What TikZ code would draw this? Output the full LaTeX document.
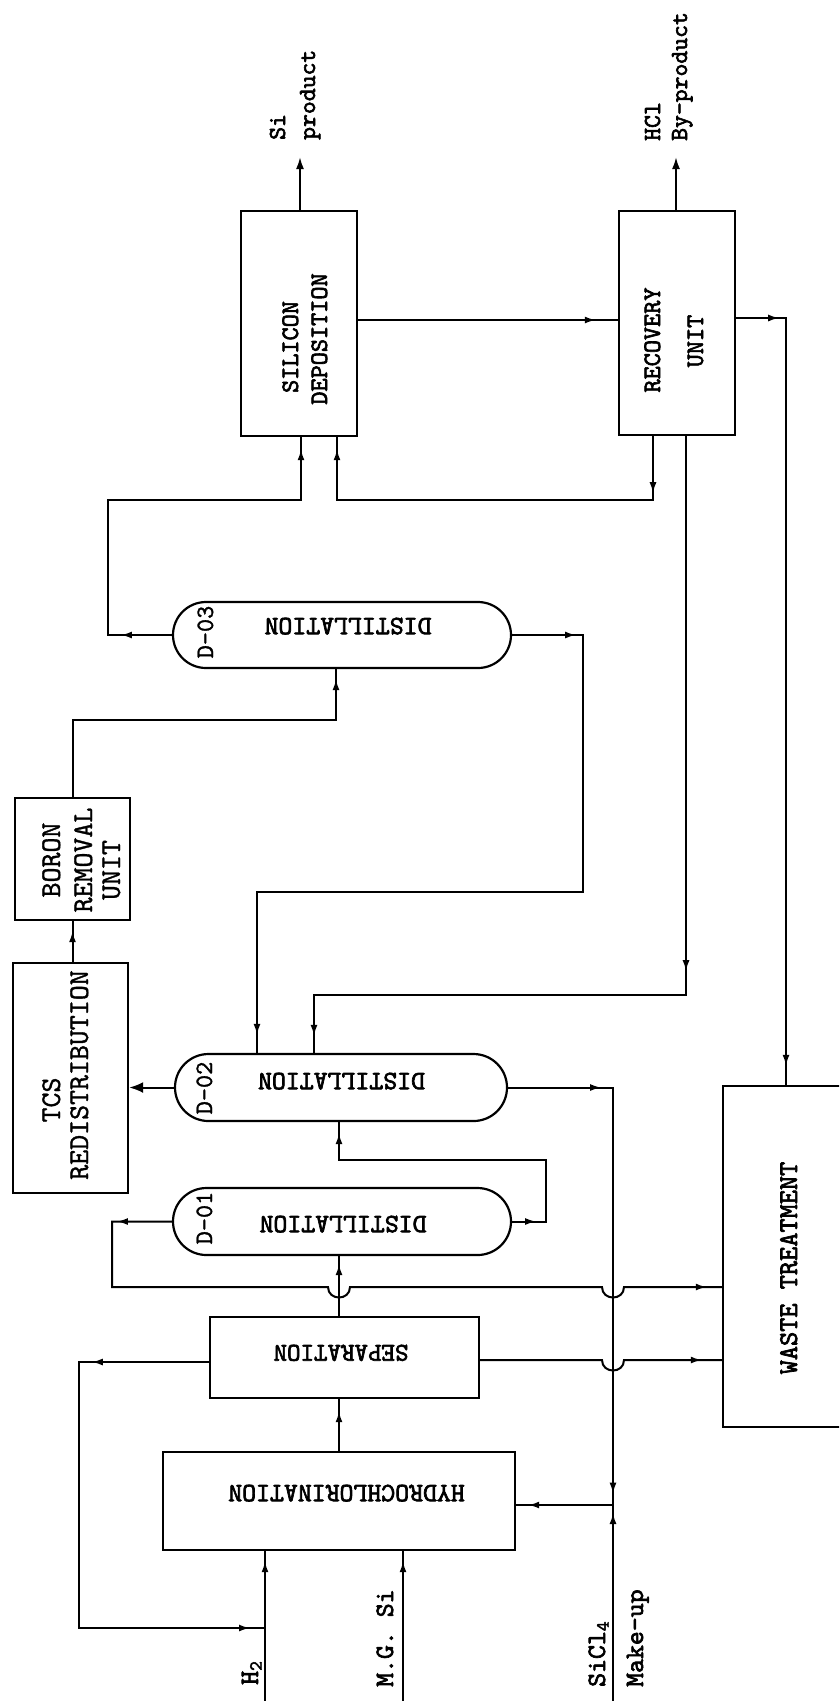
\documentclass[tikz,border=0pt]{standalone}
\usepackage{fontspec}
\newfontfamily\twb{lmmono10-regular}[Extension=.otf, FakeBold=2.5]
\newfontfamily\twr{lmmono10-regular}[Extension=.otf, FakeBold=1.2]
\usetikzlibrary{arrows.meta,decorations.markings,shapes.misc}
\tikzset{
  box/.style={draw, line width=2.4pt, rectangle, inner sep=0pt},
  vessel/.style={draw, line width=2.2pt, rounded rectangle, inner sep=0pt, minimum width=338pt, minimum height=66pt},
  ln/.style={line width=2pt},
  ar/.style={postaction={decorate,decoration={markings,mark=at position #1 with {\arrow{Latex[length=11pt,width=7pt]}}}}},
  tip/.style={-{Latex[length=12pt,width=8pt]}},
  bigtip/.style={-{Latex[length=14pt,width=11pt]}},
  bt/.style={font=\twb\fontsize{#1}{#1}\selectfont, inner sep=0pt},
  rt/.style={font=\twr\fontsize{#1}{#1}\selectfont, inner sep=0pt},
}
\begin{document}
\begin{tikzpicture}[x=1pt,y=-1pt]
\path[use as bounding box] (0,0) rectangle (839,1701);
\clip (0,0) rectangle (839,1701);
\fill[white] (0,0) rectangle (839,1701);

% units
\node[box, minimum width=116pt, minimum height=225pt] (sd) at (299,323.5) {};
\node[box, minimum width=116pt, minimum height=224pt] (rec) at (677,323) {};
\node[vessel] (d03) at (342,635) {};
\node[box, minimum width=115pt, minimum height=122pt] (bru) at (72.5,859) {};
\node[box, minimum width=115pt, minimum height=230pt] (tcs) at (70.5,1078) {};
\node[vessel, minimum width=332pt, minimum height=67pt] (d02) at (341,1087.5) {};
\node[vessel, minimum width=338pt, minimum height=67pt] (d01) at (342,1221.5) {};
\node[box, minimum width=269pt, minimum height=81pt] (sep) at (344.5,1357.5) {};
\node[box, minimum width=352pt, minimum height=98pt] (hyd) at (339,1501) {};
\node[box, minimum width=160pt, minimum height=341pt] (wt) at (803,1256.5) {};

% free ends
\coordinate (sipr) at (300,157);
\coordinate (hclpr) at (676,157);
\coordinate (jn) at (613,1505);
\coordinate (mk) at (613,1701);
\coordinate (h2in) at (265,1701);
\coordinate (h2j) at (265,1628);
\coordinate (mgin) at (403,1701);

% connectors
\draw[ln, tip] (300,0 |- sd.north) -- (sipr);
\draw[ln, ar=-22pt] (sd.east |- 0,320) -- (rec.west |- 0,320);
\draw[ln, tip] (676,0 |- rec.north) -- (hclpr);
\draw[ln, ar=43pt, ar=-19pt] (rec.east |- 0,318) -- (786,318) -- (786,0 |- wt.north);
\draw[ln, ar=57pt, ar=-12pt] (653,0 |- rec.south) -- (653,500) -- (337,500) -- (337,0 |- sd.south);
\draw[ln, ar=51pt, ar=-12pt] (d03.west) -- (108,0 |- d03.west) -- (108,500) -- (301,500) -- (301,0 |- sd.south);
\draw[ln, ar=535pt, ar=-17pt] (686,0 |- rec.south) -- (686,995) -- (314,995) -- (314,0 |- d02.north);
\draw[ln, ar=64pt, ar=-18pt] (d03.east) -- (583,0 |- d03.east) -- (583,892) -- (257,892) -- (257,0 |- d02.north);
\draw[ln, ar=-10pt] (bru.north) -- (72.5,720) -- (336,720) -- (336,0 |- d03.south);
\draw[ln, ar=-10pt] (tcs.north -| bru.south) -- (bru.south);
\draw[ln, bigtip] (d02.west) -- (tcs.east |- d02.west);
\draw[ln, ar=24pt, ar=-11pt] (d01.east) -- (546,0 |- d01.east) -- (546,1160) -- (339,1160) -- (339,0 |- d02.south);
\draw[ln, ar=93pt, ar=511pt, ar=-12pt] (d02.east) -- (613,0 |- d02.east) -- (jn) -- (hyd.east |- jn);
\draw[ln, ar=-8pt] (mk) -- (jn);
\draw[ln, ar=55pt, ar=-15pt] (d01.west) -- (112,0 |- d01.west) -- (112,1287) -- (328,1287)
   .. controls (328,1301) and (350,1301) .. (350,1287) -- (602,1287)
   .. controls (602,1301) and (624,1301) .. (624,1287) -- (wt.west |- 0,1287);
\draw[ln, ar=-8pt] (339,0 |- sep.north) -- (339,0 |- d01.south);
\draw[ln, ar=117pt, ar=-15pt] (sep.west |- 0,1362) -- (79,1362) -- (79,1628) -- (h2j);
\draw[ln, ar=-20pt] (sep.east |- 0,1360) -- (602,1360)
   .. controls (602,1374) and (624,1374) .. (624,1360) -- (wt.west |- 0,1360);
\draw[ln, ar=-12pt] (339,0 |- hyd.north) -- (339,0 |- sep.south);
\draw[ln, ar=-10pt] (h2in) -- (265,0 |- hyd.south);
\draw[ln, ar=-10pt] (mgin) -- (403,0 |- hyd.south);

% texts
\node[bt=24.5, rotate=90, anchor=base west] (lsi) at (285,140) {Si};
\node[bt=24.5, rotate=90, anchor=base west] (lprod) at (315,140) {product};
\node[bt=24.5, rotate=90, anchor=base west] (lhcl) at (660,141) {HCl};
\node[bt=24.5, rotate=90, anchor=base west] (lby) at (687,141) {By-product};
\node[bt=25, rotate=90, anchor=base] (tsil) at (298,347) {SILICON};
\node[bt=25, rotate=90, anchor=base] (tdep) at (327,339) {DEPOSITION};
\node[bt=25, rotate=90, anchor=base] (trec) at (660,340) {RECOVERY};
\node[bt=25, rotate=90, anchor=base] (tunit) at (703,341) {UNIT};
\node[rt=28.5, rotate=90, anchor=base] (tbor) at (60,860) {BORON};
\node[rt=28.5, rotate=90, anchor=base] (trem) at (92,860) {REMOVAL};
\node[rt=28.5, rotate=90, anchor=base] (tuni2) at (120,870) {UNIT};
\node[rt=28.5, rotate=90, anchor=base] (ttcs) at (60,1100) {TCS};
\node[rt=28.5, rotate=90, anchor=base] (tred) at (88,1075) {REDISTRIBUTION};
\node[bt=27, rotate=90, anchor=base] (twt) at (797,1268) {WASTE TREATMENT};
\node[rt=25, rotate=90, anchor=base] (td3) at (213,632) {D-03};
\node[rt=25, rotate=90, anchor=base] (td2) at (212,1088) {D-02};
\node[rt=25, rotate=90, anchor=base] (td1) at (212,1218) {D-01};
\node[bt=26.5, rotate=180, anchor=base] (tdi3) at (348,618) {DISTILLATION};
\node[bt=26.5, rotate=180, anchor=base] (tdi2) at (341.5,1073) {DISTILLATION};
\node[bt=26.5, rotate=180, anchor=base] (tdi1) at (343,1216) {DISTILLATION};
\node[bt=25.7, rotate=180, anchor=base] (tsep) at (341,1345) {SEPARATION};
\node[bt=26.5, rotate=180, anchor=base] (thyd) at (346.5,1485) {HYDROCHLORINATION};
\node[bt=26.5, rotate=90, anchor=base west] (lh2) at (258,1685) {H\textsubscript{2}};
\node[bt=26.5, rotate=90, anchor=base west] (lmg) at (393,1687) {M.G. Si};
\node[bt=26.5, rotate=90, anchor=base west] (lsic) at (605,1687) {SiCl\textsubscript{4}};
\node[bt=26.5, rotate=90, anchor=base west] (lmk) at (643,1687) {Make-up};
\end{tikzpicture}
\end{document}
